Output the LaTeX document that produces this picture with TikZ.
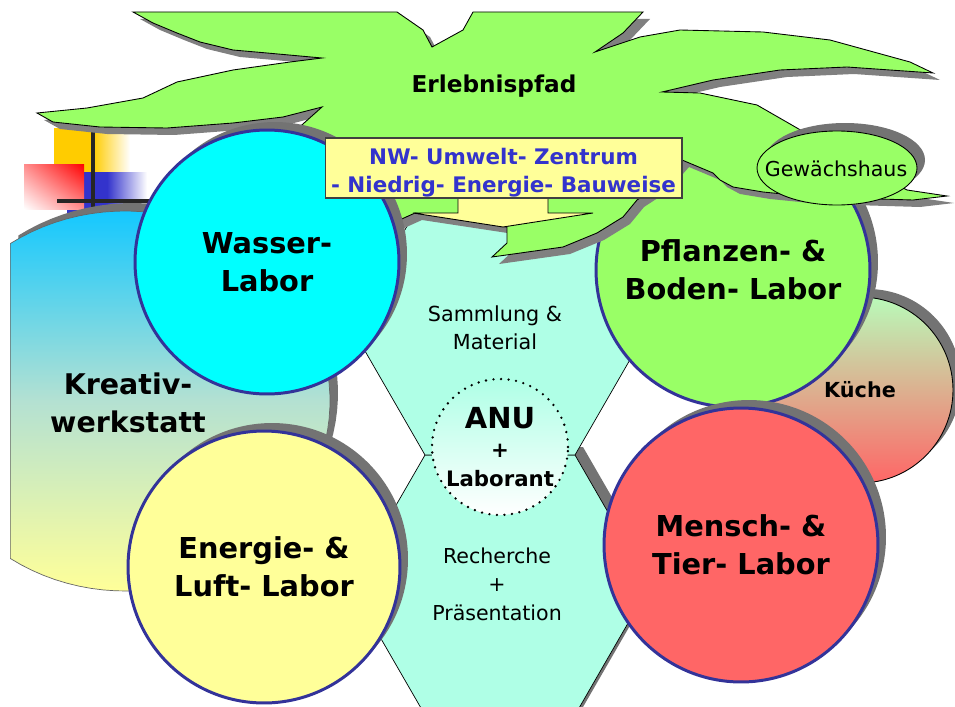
\documentclass[tikz,border=0pt]{standalone}
\usepackage{fontspec}
\setmainfont{DejaVu Sans}
\usetikzlibrary{shadows,shadings}

\definecolor{leafgreen}{RGB}{153,255,102}
\definecolor{labblue}{RGB}{51,51,153}
\definecolor{watercyan}{RGB}{0,255,255}
\definecolor{sunyellow}{RGB}{255,255,153}
\definecolor{humanred}{RGB}{255,102,102}
\definecolor{hexmint}{RGB}{175,255,230}
\definecolor{titleblue}{RGB}{51,51,204}
\definecolor{logoyellow}{RGB}{255,204,0}
\definecolor{skyblue}{RGB}{20,200,255}
\definecolor{mistgreen}{RGB}{180,225,210}
\definecolor{palegreen}{RGB}{185,250,185}

\begin{document}
\begin{tikzpicture}[x=0.02cm,y=-0.02cm,
    labshadow/.style={drop shadow={shadow xshift=0.16cm,shadow yshift=0.16cm,fill=black!55,opacity=1}},
    cloudshadow/.style={drop shadow={shadow xshift=0.14cm,shadow yshift=-0.14cm,fill=black!50,opacity=1}},
    lab/.style={circle,draw=labblue,line width=1.7pt,labshadow,align=center,inner sep=0pt,
        font=\bfseries\fontsize{16.4}{21.5}\selectfont},
    roomtext/.style={align=center,inner sep=0pt,font=\fontsize{11.8}{15.9}\selectfont}]
    \useasboundingbox (0,0) rectangle (955,706);

    % logo
    \fill[logoyellow] (54,128) rectangle (93,172);
    \shade[left color=logoyellow,right color=white] (93,128) rectangle (130,172);
    \fill[titleblue] (67,172) rectangle (107,217);
    \shade[left color=titleblue,right color=white] (107,172) rectangle (147,217);
    \shade[upper right=red,lower left=white,upper left=red!45!white,lower right=red!45!white] (24,164) rectangle (84,209);
    \draw[line width=2.3pt,black!85] (93,128) -- (93,217) (57,201) -- (150,201);

    % kreativwerkstatt
    \path[labshadow,draw=black!60,line width=0.4pt,top color=skyblue,bottom color=sunyellow,middle color=mistgreen]
        plot[domain=-124:124,samples=72] ({125+205*cos(\x)},{401+190*sin(\x)}) -- cycle;
    \node[roomtext,font=\bfseries\fontsize{16.2}{21.5}\selectfont] (kreativ) at (128,403) {Kreativ-\\werkstatt};

    % kueche
    \node[circle,draw=black,line width=0.5pt,labshadow,top color=palegreen,bottom color=humanred,
        minimum size=3.72cm,inner sep=0pt,font=\bfseries\fontsize{11.8}{14}\selectfont] (kueche) at (860,390) {Küche};

    % hexagons
    \path[labshadow,draw=black,line width=0.4pt,fill=hexmint]
        (425,455) -- (575,455) -- (650,585) -- (575,715) -- (425,715) -- (350,585) -- cycle;
    \path[draw=black,line width=0.4pt,fill=hexmint]
        (425,195) -- (575,195) -- (650,325) -- (575,455) -- (425,455) -- (350,325) -- cycle;
    \node[roomtext] (sammlung) at (495,328) {Sammlung \&\\Material};
    \node[roomtext,font=\fontsize{11.7}{16.2}\selectfont] (recherche) at (497,584) {Recherche\\+\\Präsentation};

    % pflanzen
    \node[lab,fill=leafgreen,minimum size=5.48cm] (pflanzen) at (733,270) {Pflanzen- \&\\Boden- Labor};

    % erlebnispfad
    \path[cloudshadow,draw=black,line width=0.5pt,fill=leafgreen]
        (133,12) -- (397,12) -- (423,30) -- (432,47) -- (463,30) -- (473,12) -- (643,12)
        -- (623,33) -- (595,52) -- (640,37) -- (680,30) -- (763,32) -- (830,40) -- (910,62) -- (933,73)
        -- (847,67) -- (780,70) -- (713,80) -- (662,92) -- (700,93) -- (757,105) -- (797,128)
        -- (860,165) -- (907,190) -- (947,196) -- (913,200) -- (813,197) -- (763,192) -- (733,187)
        -- (720,180) -- (713,173) -- (682,160) -- (660,185) -- (637,200) -- (623,217) -- (597,233)
        -- (563,247) -- (492,257) -- (507,243) -- (507,227) -- (415,213) -- (395,222) -- (300,170)
        -- (285,140) -- (322,107) -- (283,117) -- (233,123) -- (167,128) -- (100,127) -- (53,122)
        -- (37,113) -- (87,108) -- (143,98) -- (177,82) -- (233,70) -- (290,62) -- (322,58)
        -- (267,53) -- (233,50) -- (200,42) -- (177,33) -- (153,23) -- cycle;
    \node[font=\bfseries\fontsize{13.2}{16}\selectfont] (erleb) at (494,86) {Erlebnispfad};

    % pointer
    \path[draw=black,line width=0.5pt,fill=sunyellow]
        (458,190) -- (458,213) -- (413,213) -- (503,227) -- (593,213) -- (548,213) -- (548,190) -- cycle;

    % labs
    \node[lab,fill=watercyan,minimum size=5.28cm] (wasser) at (267,262) {Wasser-\\Labor};
    \node[lab,fill=sunyellow,minimum size=5.44cm] (energie) at (264,567) {Energie- \&\\Luft- Labor};
    \node[lab,fill=humanred,minimum size=5.48cm] (mensch) at (741,545) {Mensch- \&\\Tier- Labor};

    % ANU
    \node[circle,draw=black,line width=1.5pt,dash pattern=on 0pt off 4.3pt,line cap=round,
        top color=hexmint,bottom color=white,minimum size=2.72cm,inner sep=0pt,align=center,
        font=\bfseries\fontsize{12.1}{16.5}\selectfont] (anu) at (500,447)
        {{\fontsize{16.5}{16.5}\selectfont ANU}\\+\\Laborant};

    % zentrum
    \node[draw=black!75,line width=0.6pt,fill=sunyellow,minimum width=7.14cm,minimum height=1.2cm,inner sep=0pt]
        (centrebox) at (503.5,168) {};
    \node[align=center,inner sep=0pt,text=titleblue,font=\bfseries\fontsize{12.2}{15.9}\selectfont]
        (centretext) at (503.5,173) {NW- Umwelt- Zentrum\\- Niedrig- Energie- Bauweise};

    % gewaechshaus
    \path[labshadow,draw=black,line width=0.5pt,fill=leafgreen] (837,168) ellipse [x radius=80,y radius=37];
    \node[font=\fontsize{11.7}{14}\selectfont] (gewaechs) at (836,169) {Gewächshaus};
\end{tikzpicture}
\end{document}
